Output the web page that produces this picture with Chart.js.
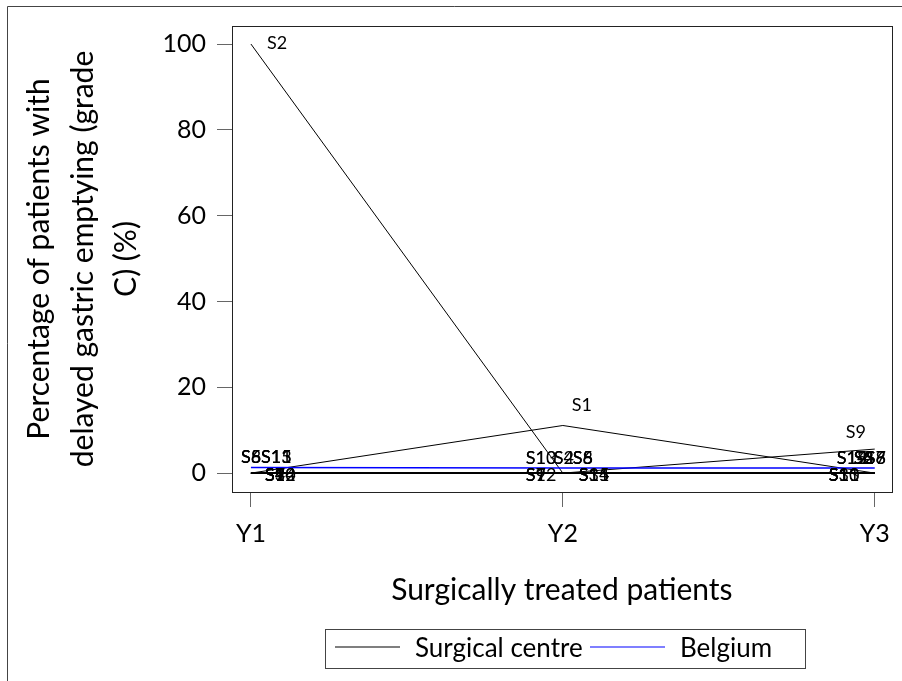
<!DOCTYPE html>
<html>
<head>
<meta charset="utf-8">
<script src="https://cdn.jsdelivr.net/npm/chart.js@4"></script>
<style>
  html,body{margin:0;padding:0;background:#fff;}
  #wrap{width:902px;height:681px;position:relative;}
</style>
</head>
<body>
<div id="wrap"><canvas id="c" width="902" height="681"></canvas></div>
<script>
// categories and tick labels
const years = ['Y1', 'Y2', 'Y3'];
const yTicks = [0, 20, 40, 60, 80, 100];

// % of patients with delayed gastric emptying (grade C), per surgical centre
const S1 = [0, 11.1, 0];
const S2 = [100, 0, 0];
const S3 = [0, 0, 0];
const S4 = [0, 0, 0];
const S5 = [0, 0, 0];
const S6 = [0, 0, 0];
const S7 = [0, 0, 0];
const S8 = [0, 0, 0];
const S9 = [0, 0, 5.6];
const S10 = [0, 0, 0];
const S11 = [0, 0, 0];
const S12 = [0, 0, 0];
const S13 = [0, 0, 0];
const S14 = [0, 0, 0];
const S15 = [0, 0, 0];
const belgium = [1.3, 1.2, 1.2];

const centres = { S1, S2, S3, S4, S5, S6, S7, S8, S9, S10, S11, S12, S13, S14, S15 };

const FONT = 'Lato, "Open Sans", sans-serif';

// where each point label goes, relative to its point: [name, dx to left edge, dy to text middle]
const labelPlacement = [
  [['S6',-10,-16],['S8',-10,-16],['S5',-10,-16],['S13',10,-16],['S11',10,-16],['S15',10,-16],
   ['S10',14,2],['S4',14,2],['S12',14,2],['S14',14,2],['S3',14,2],['S7',14,2],['S9',14,2],['S1',14,2],['S2',16,-1]],
  [['S10',-37,-15],['S13',-37,-15],['S2',-9,-15],['S4',-9,-15],['S8',10,-15],['S6',10,-15],['S5',10,-15],
   ['S12',-37,2],['S9',-37,2],['S7',-37,2],['S14',16,2],['S11',16,2],['S3',16,2],['S15',16,2],['S1',9,-20]],
  [['S12',-38,-15],['S14',-38,-15],['S15',-38,-15],['S5',-21,-15],['S2',-21,-15],['S4',-21,-15],
   ['S8',-9,-15],['S6',-9,-15],['S7',-9,-15],['S10',-46,2],['S3',-46,2],['S13',-46,2],['S11',-46,2],['S1',-46,2],['S9',-29,-17]]
];

const toPts = arr => arr.map((v, i) => ({ x: i, y: v }));

const datasets = Object.keys(centres).map(name => ({
  label: name,
  data: toPts(centres[name]),
  borderColor: '#000',
  borderWidth: 1,
  pointRadius: 0,
  tension: 0,
  order: 2
}));
datasets.push({
  label: 'Belgium',
  data: toPts(belgium),
  borderColor: '#0000ff',
  borderWidth: 1.5,
  pointRadius: 0,
  tension: 0,
  order: 1
});

const framePlugin = {
  id: 'frame',
  beforeDraw(chart){
    const ctx = chart.ctx;
    ctx.save();
    ctx.strokeStyle = '#444';
    ctx.lineWidth = 1;
    ctx.beginPath();
    ctx.moveTo(7.5, 681); ctx.lineTo(7.5, 6.5); ctx.lineTo(902, 6.5);
    ctx.stroke();
    ctx.restore();
  },
  afterDraw(chart){
    const ctx = chart.ctx, a = chart.chartArea;
    ctx.save();
    ctx.strokeStyle = '#222';
    ctx.lineWidth = 1;
    ctx.strokeRect(Math.round(a.left) + 0.5, Math.round(a.top) + 0.5, Math.round(a.right - a.left), Math.round(a.bottom - a.top));

    // point labels
    const xs = chart.scales.x, ys = chart.scales.y;
    ctx.fillStyle = '#000';
    ctx.font = '18px ' + FONT;
    ctx.textAlign = 'left';
    ctx.textBaseline = 'middle';
    labelPlacement.forEach((list, i) => {
      list.forEach(([name, dx, dy]) => {
        const px = xs.getPixelForValue(i), py = ys.getPixelForValue(centres[name][i]);
        ctx.fillText(name, px + dx, py + dy);
      });
    });

    // legend
    ctx.strokeStyle = '#444';
    ctx.strokeRect(325.5, 629.5, 480, 39);
    ctx.lineWidth = 1.2;
    ctx.strokeStyle = '#000';
    ctx.beginPath(); ctx.moveTo(335, 647); ctx.lineTo(400, 647); ctx.stroke();
    ctx.strokeStyle = '#0000ff';
    ctx.beginPath(); ctx.moveTo(590, 647); ctx.lineTo(665, 647); ctx.stroke();
    ctx.font = '26px ' + FONT;
    ctx.fillStyle = '#000';
    ctx.fillText('Surgical centre', 415, 649);
    ctx.fillText('Belgium', 680, 649);
    ctx.restore();
  }
};

new Chart(document.getElementById('c'), {
  type: 'line',
  data: { datasets },
  plugins: [framePlugin],
  options: {
    responsive: false,
    animation: false,
    layout: { padding: { left: 0, top: 24, right: 8, bottom: 0 } },
    plugins: { legend: { display: false }, tooltip: { enabled: false } },
    scales: {
      x: {
        type: 'linear',
        min: -0.0607,
        max: 2.0543,
        afterBuildTicks: s => { s.ticks = years.map((_, i) => ({ value: i })); },
        afterFit: s => { s.height = 189; },
        border: { display: false },
        grid: { drawOnChartArea: false, tickLength: 15, color: '#666' },
        ticks: { callback: v => years[v], color: '#000', font: { family: FONT, size: 25 }, padding: 12, maxRotation: 0 },
        title: { display: true, text: 'Surgically treated patients', color: '#000', font: { family: FONT, size: 30 }, padding: { top: 0, bottom: 73 } }
      },
      y: {
        min: -4.4,
        max: 104.2,
        afterBuildTicks: s => { s.ticks = yTicks.map(v => ({ value: v })); },
        afterFit: s => { s.width = 232; },
        border: { display: false },
        grid: { drawOnChartArea: false, tickLength: 15, color: '#666' },
        ticks: { color: '#000', font: { family: FONT, size: 25 }, padding: 11 },
        title: {
          display: true,
          text: ['Percentage of patients with', 'delayed gastric emptying (grade', 'C) (%)'],
          color: '#000',
          font: { family: FONT, size: 30, lineHeight: 1.45 },
          padding: { top: 18, bottom: 0 }
        }
      }
    }
  }
});
</script>
</body>
</html>
